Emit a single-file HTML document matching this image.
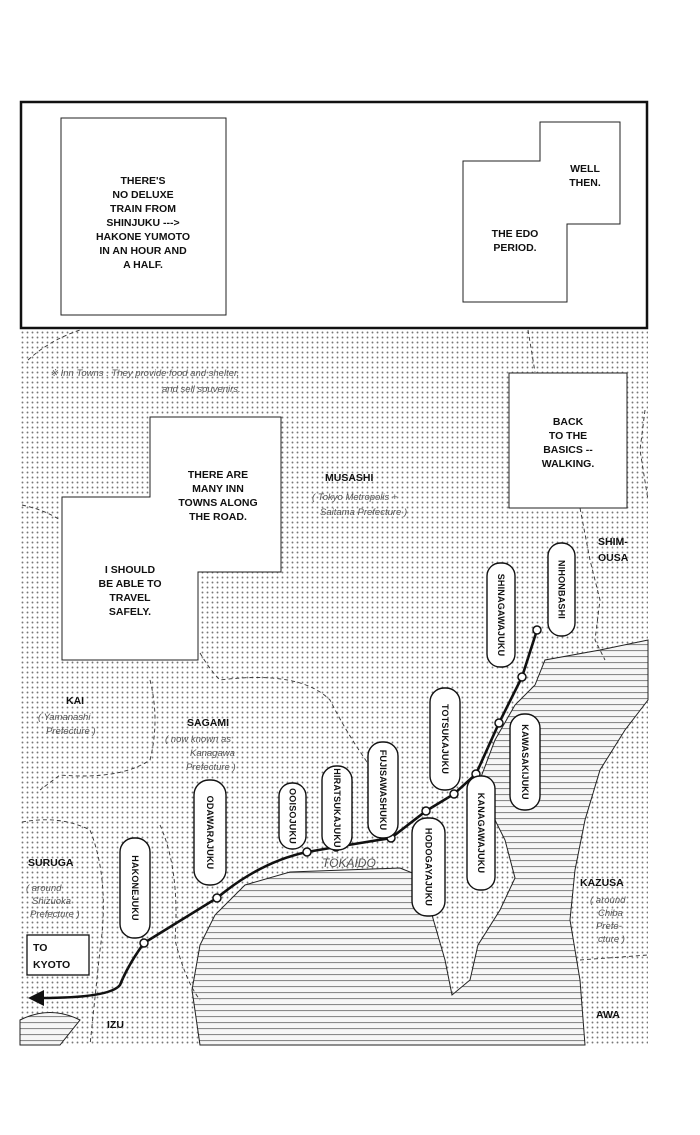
<!DOCTYPE html>
<html><head><meta charset="utf-8"><style>
html,body{margin:0;padding:0;background:#fff;}
svg{display:block;}
.b{font-family:"Liberation Sans",sans-serif;font-weight:bold;font-size:10.5px;fill:#111;}
.h{font-family:"Liberation Sans",sans-serif;font-style:italic;font-size:9.5px;fill:#555;}
.p{font-family:"Liberation Sans",sans-serif;font-weight:bold;font-size:9px;fill:#111;letter-spacing:0.2px;}
</style></head><body>
<svg width="700" height="1135" viewBox="0 0 700 1135" xmlns="http://www.w3.org/2000/svg">
<defs>
<pattern id="dots" width="5" height="5" patternUnits="userSpaceOnUse">
<rect width="5" height="5" fill="#fff"/><circle cx="2.5" cy="2.5" r="0.95" fill="#777"/>
</pattern>
<pattern id="sea" width="6" height="6" patternUnits="userSpaceOnUse">
<rect width="6" height="6" fill="#f6f6f6"/><rect y="2" width="6" height="1.1" fill="#8a8a8a"/>
</pattern>
</defs>

<!-- top panel -->
<rect x="21" y="102" width="626" height="226" fill="#fff" stroke="#111" stroke-width="2.5"/>
<rect x="61" y="118" width="165" height="197" fill="#fff" stroke="#222" stroke-width="1"/>
<g class="b" text-anchor="middle">
<text x="143" y="184">THERE'S</text><text x="143" y="198">NO DELUXE</text><text x="143" y="212">TRAIN FROM</text>
<text x="143" y="226">SHINJUKU ---&gt;</text><text x="143" y="240">HAKONE YUMOTO</text><text x="143" y="254">IN AN HOUR AND</text><text x="143" y="268">A HALF.</text>
</g>
<path d="M540,122 H620 V224 H567 V302 H463 V161 H540 Z" fill="#fff" stroke="#222" stroke-width="1"/>
<g class="b" text-anchor="middle">
<text x="585" y="172">WELL</text><text x="585" y="186">THEN.</text>
<text x="515" y="237">THE EDO</text><text x="515" y="251">PERIOD.</text>
</g>

<!-- map -->
<rect x="20" y="330" width="628" height="715" fill="url(#dots)"/>
<path d="M200,1045 L192,990 L200,945 L215,915 L245,885 L290,872 L400,868 L425,878 L432,915 L445,960 L452,995 L470,980 L478,945 L500,910 L515,878 L505,840 L490,810 L478,785 L495,740 L515,705 L535,685 L545,660 L600,650 L648,640 L648,700 L625,730 L600,770 L585,820 L575,870 L570,920 L580,980 L585,1045 Z" fill="url(#sea)" stroke="#222" stroke-width="1"/>
<path d="M20,1045 L20,1020 Q50,1005 80,1020 L60,1045 Z" fill="url(#sea)" stroke="#222" stroke-width="1"/>

<!-- dashed borders -->
<g fill="none" stroke="#333" stroke-width="0.9" stroke-dasharray="4,3">
<path d="M28,360 Q50,340 80,330"/>
<path d="M528,330 L535,372"/>
<path d="M580,508 L590,560 L600,600 L595,640 L605,660"/>
<path d="M645,410 L640,450 L648,500"/>
<path d="M22,505 Q45,510 60,520"/>
<path d="M200,653 Q210,670 220,680 Q300,670 330,700 Q350,740 380,780 L390,810"/>
<path d="M150,680 Q160,720 150,760 Q120,780 60,775 L40,790"/>
<path d="M22,822 Q60,815 90,830 Q110,880 100,950 L90,1045"/>
<path d="M160,825 Q180,870 175,940 Q185,980 200,1000"/>
<path d="M580,960 L648,955"/>
</g>

<!-- note -->
<text class="h" x="50" y="376">※ Inn Towns . They provide food and shelter,</text>
<text class="h" x="162" y="392">and sell souvenirs.</text>

<!-- speech boxes map -->
<rect x="509" y="373" width="118" height="135" fill="#fff" stroke="#222" stroke-width="1"/>
<g class="b" text-anchor="middle">
<text x="568" y="425">BACK</text><text x="568" y="439">TO THE</text><text x="568" y="453">BASICS --</text><text x="568" y="467">WALKING.</text>
</g>
<path d="M150,417 H281 V572 H198 V660 H62 V497 H150 Z" fill="#fff" stroke="#222" stroke-width="1"/>
<g class="b" text-anchor="middle">
<text x="218" y="478">THERE ARE</text><text x="218" y="492">MANY INN</text><text x="218" y="506">TOWNS ALONG</text><text x="218" y="520">THE ROAD.</text>
<text x="130" y="573">I SHOULD</text><text x="130" y="587">BE ABLE TO</text><text x="130" y="601">TRAVEL</text><text x="130" y="615">SAFELY.</text>
</g>

<!-- region labels -->
<g class="b">
<text x="325" y="481">MUSASHI</text>
<text x="598" y="545">SHIM-</text><text x="598" y="561">OUSA</text>
<text x="66" y="704">KAI</text>
<text x="187" y="726">SAGAMI</text>
<text x="28" y="866">SURUGA</text>
<text x="580" y="886">KAZUSA</text>
<text x="107" y="1028">IZU</text>
<text x="596" y="1018">AWA</text>
</g>
<g class="h">
<text x="312" y="500">( Tokyo Metropolis +</text><text x="320" y="515">Saitama Prefecture )</text>
<text x="38" y="720">( Yamanashi</text><text x="46" y="734">Prefecture )</text>
<text x="165" y="742">( now known as</text><text x="190" y="756">Kanagawa</text><text x="186" y="770">Prefecture )</text>
<text x="26" y="891">( around</text><text x="32" y="904">Shizuoka</text><text x="30" y="917">Prefecture )</text>
<text x="590" y="903">( around</text><text x="598" y="916">Chiba</text><text x="596" y="929">Prefe-</text><text x="598" y="942">cture )</text>
<text x="322" y="867" font-size="12">TOKAIDO</text>
</g>

<!-- road -->
<path d="M537,630 L522,677 L499,723 L476,774 L454,794 L426,811 L391,838 L336,847 L307,852 Q260,862 217,898 L144,943 Q128,965 120,985 Q110,998 40,998" fill="none" stroke="#111" stroke-width="2.6"/>
<path d="M28,998 L44,990 L44,1006 Z" fill="#111"/>
<g fill="#fff" stroke="#111" stroke-width="1.5">
<circle cx="537" cy="630" r="4"/><circle cx="522" cy="677" r="4"/><circle cx="499" cy="723" r="4"/>
<circle cx="476" cy="774" r="4"/><circle cx="454" cy="794" r="4"/><circle cx="426" cy="811" r="4"/>
<circle cx="391" cy="838" r="4"/><circle cx="336" cy="847" r="4"/><circle cx="307" cy="852" r="4"/>
<circle cx="217" cy="898" r="4"/><circle cx="144" cy="943" r="4"/>
</g>

<!-- TO KYOTO -->
<rect x="27" y="935" width="62" height="40" fill="#fff" stroke="#111" stroke-width="1.3"/>
<text class="b" x="33" y="951">TO</text><text class="b" x="33" y="968">KYOTO</text>

<!-- station pills -->
<g fill="#fff" stroke="#111" stroke-width="1.4">
<rect x="548" y="543" width="27" height="93" rx="13"/>
<rect x="487" y="563" width="28" height="104" rx="13"/>
<rect x="430" y="688" width="30" height="102" rx="14"/>
<rect x="510" y="714" width="30" height="96" rx="14"/>
<rect x="467" y="776" width="28" height="114" rx="13"/>
<rect x="412" y="818" width="33" height="98" rx="15"/>
<rect x="368" y="742" width="30" height="96" rx="14"/>
<rect x="322" y="766" width="30" height="84" rx="14"/>
<rect x="279" y="783" width="27" height="66" rx="13"/>
<rect x="194" y="780" width="32" height="105" rx="15"/>
<rect x="120" y="838" width="30" height="100" rx="14"/>
</g>
<g class="p" text-anchor="middle">
<text transform="translate(561.5,589.5) rotate(90)" dy="3.2">NIHONBASHI</text>
<text transform="translate(501,615) rotate(90)" dy="3.2">SHINAGAWAJUKU</text>
<text transform="translate(445,739) rotate(90)" dy="3.2">TOTSUKAJUKU</text>
<text transform="translate(525,762) rotate(90)" dy="3.2">KAWASAKIJUKU</text>
<text transform="translate(481,833) rotate(90)" dy="3.2">KANAGAWAJUKU</text>
<text transform="translate(428.5,867) rotate(90)" dy="3.2">HODOGAYAJUKU</text>
<text transform="translate(383,790) rotate(90)" dy="3.2">FUJISAWASHUKU</text>
<text transform="translate(337,808) rotate(90)" dy="3.2">HIRATSUKAJUKU</text>
<text transform="translate(292.5,816) rotate(90)" dy="3.2">OOISOJUKU</text>
<text transform="translate(210,832.5) rotate(90)" dy="3.2">ODAWARAJUKU</text>
<text transform="translate(135,888) rotate(90)" dy="3.2">HAKONEJUKU</text>
</g>
</svg>
</body></html>
